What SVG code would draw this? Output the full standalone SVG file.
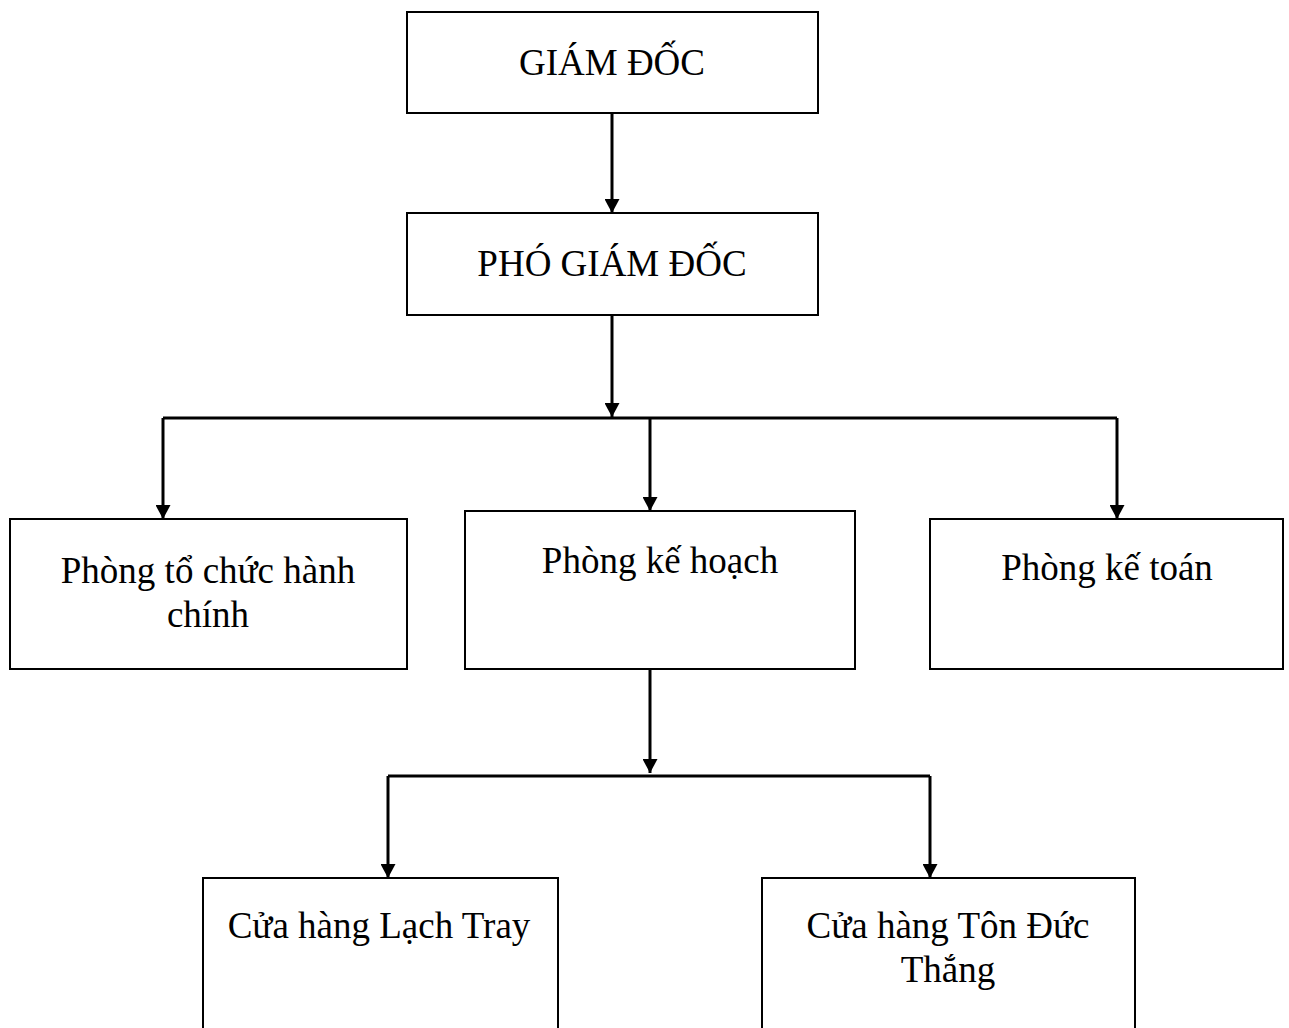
<svg xmlns="http://www.w3.org/2000/svg" width="1289" height="1028" viewBox="0 0 1289 1028">
  <style>
    .box { fill: #ffffff; stroke: #000000; stroke-width: 2; }
    .lbl { font-family: "Liberation Serif", "Times New Roman", serif; font-size: 37px; fill: #000000; text-anchor: middle; }
    .wire { fill: none; stroke: #000000; stroke-width: 3; }
    .tip { marker-end: url(#arrow); }
  </style>
  <defs>
    <marker id="arrow" viewBox="0 0 14 15" refX="14" refY="7.5" markerUnits="userSpaceOnUse" markerWidth="14" markerHeight="15" orient="auto">
      <path d="M0,0 L14,7.5 L0,15 Z" fill="#000000"/>
    </marker>
  </defs>
  <rect width="1289" height="1028" fill="#ffffff"/>

  <g id="connectors">
    <path class="wire tip" d="M612,113 V213"/>
    <path class="wire tip" d="M612,315 V417"/>
    <path class="wire" d="M163,418 H1117"/>
    <path class="wire tip" d="M163,418 V519"/>
    <path class="wire tip" d="M650,418 V511"/>
    <path class="wire tip" d="M1117,418 V519"/>
    <path class="wire tip" d="M650,669 V773"/>
    <path class="wire" d="M388,776 H930"/>
    <path class="wire tip" d="M388,776 V878"/>
    <path class="wire tip" d="M930,776 V878"/>
  </g>

  <g id="giam-doc">
    <rect class="box" x="407" y="12" width="411" height="101"/>
    <text class="lbl" x="612" y="75">GIÁM ĐỐC</text>
  </g>

  <g id="pho-giam-doc">
    <rect class="box" x="407" y="213" width="411" height="102"/>
    <text class="lbl" x="612" y="276">PHÓ GIÁM ĐỐC</text>
  </g>

  <g id="phong-to-chuc">
    <rect class="box" x="10" y="519" width="397" height="150"/>
    <text class="lbl" x="208" y="583">Phòng tổ chức hành</text>
    <text class="lbl" x="208" y="627">chính</text>
  </g>

  <g id="phong-ke-hoach">
    <rect class="box" x="465" y="511" width="390" height="158"/>
    <text class="lbl" x="660" y="573">Phòng kế hoạch</text>
  </g>

  <g id="phong-ke-toan">
    <rect class="box" x="930" y="519" width="353" height="150"/>
    <text class="lbl" x="1107" y="580">Phòng kế toán</text>
  </g>

  <g id="cua-hang-lach-tray">
    <rect class="box" x="203" y="878" width="355" height="170"/>
    <text class="lbl" x="379" y="938">Cửa hàng Lạch Tray</text>
  </g>

  <g id="cua-hang-ton-duc-thang">
    <rect class="box" x="762" y="878" width="373" height="170"/>
    <text class="lbl" x="948" y="938">Cửa hàng Tôn Đức</text>
    <text class="lbl" x="948" y="982">Thắng</text>
  </g>
</svg>
